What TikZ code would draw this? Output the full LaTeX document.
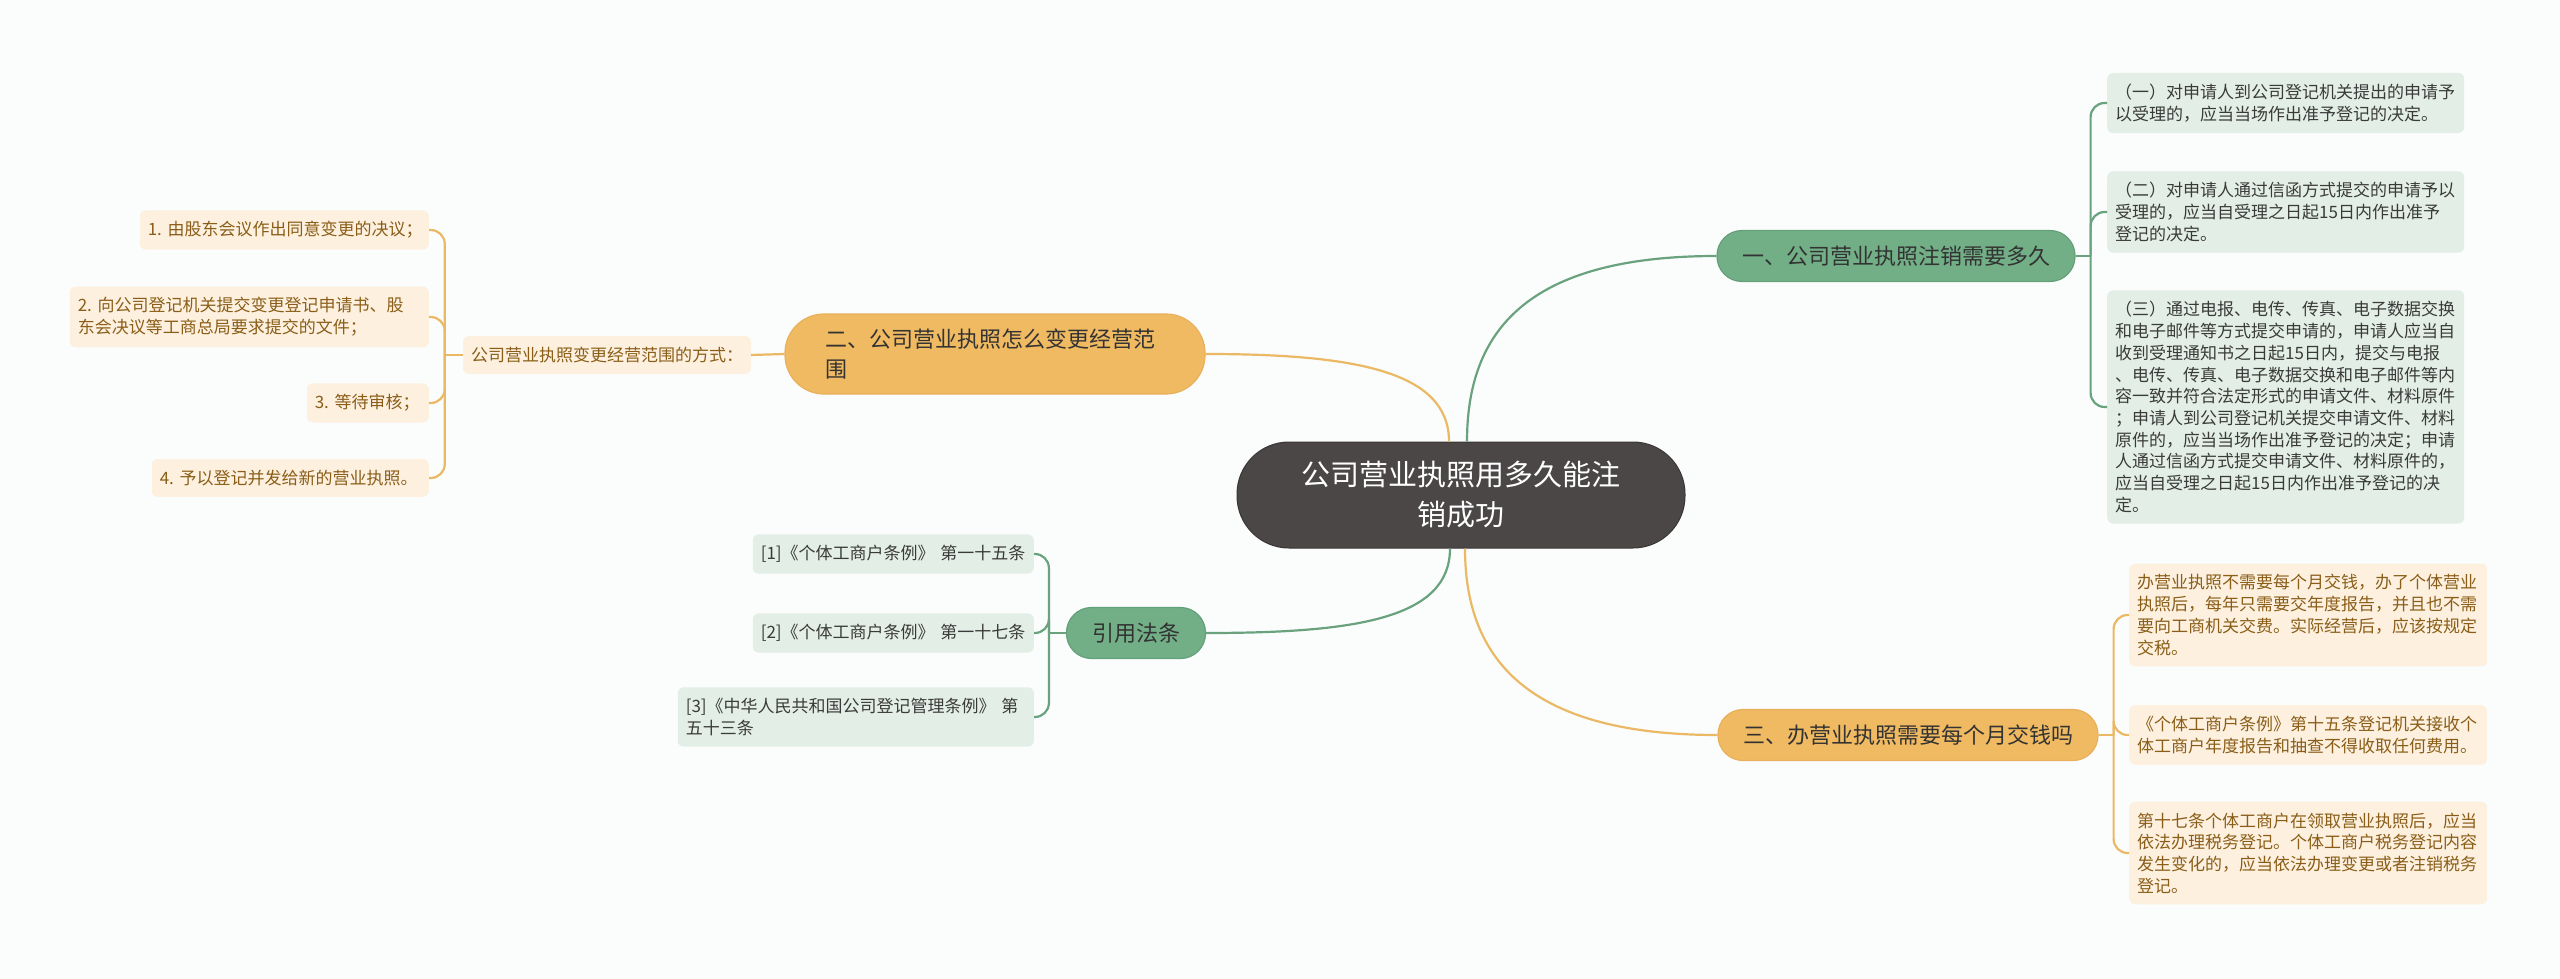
\documentclass[tikz,border=0pt]{standalone}
\usepackage{fontspec}
\setmainfont{Noto Sans CJK SC}
\usepackage{xcolor}
\usetikzlibrary{positioning}
\definecolor{bgcol}{HTML}{FBFDFD}
\definecolor{rootfill}{HTML}{4B4747}
\definecolor{rootedge}{HTML}{3A3636}
\definecolor{gfill}{HTML}{72AF87}
\definecolor{gedge}{HTML}{64A07A}
\definecolor{gline}{HTML}{6AA27E}
\definecolor{gleaf}{HTML}{E3EFE6}
\definecolor{ofill}{HTML}{F0BA62}
\definecolor{oedge}{HTML}{E8B05A}
\definecolor{oline}{HTML}{EBB864}
\definecolor{oleaf}{HTML}{FDF0DF}
\definecolor{gtext}{HTML}{3A3A3A}
\definecolor{otext}{HTML}{8A5E18}
\tikzset{
  rootbox/.style  = {rectangle, rounded corners=52pt, draw=rootedge, line width=1pt,
                     fill=rootfill, text=white, align=center, minimum width=448pt,
                     minimum height=106pt, font=\fontsize{29}{40}\selectfont},
  gbranch/.style  = {rectangle, rounded corners=25pt, draw=gedge, line width=1.2pt,
                     fill=gfill, text=black!80, minimum height=51pt,
                     font=\fontsize{22}{30}\selectfont},
  obranch/.style  = {rectangle, rounded corners=25pt, draw=oedge, line width=1.2pt,
                     fill=ofill, text=black!80, minimum height=51pt,
                     font=\fontsize{22}{30}\selectfont},
  gleafbox/.style = {rectangle, rounded corners=6pt, fill=gleaf, text=gtext,
                     align=left, inner xsep=8pt, inner ysep=11pt,
                     font=\fontsize{17}{21.7}\selectfont},
  oleafbox/.style = {rectangle, rounded corners=6pt, fill=oleaf, text=otext,
                     align=left, inner xsep=8pt, inner ysep=11pt,
                     font=\fontsize{17}{21.7}\selectfont},
  gcon/.style     = {draw=gline, line width=2.2pt},
  ocon/.style     = {draw=oline, line width=2.2pt},
}

\begin{document}
\begin{tikzpicture}[x=1pt, y=-1pt]
  % canvas
  \useasboundingbox (0,0) rectangle (2560,979);
  \fill[bgcol] (0,0) rectangle (2560,979);

  % root and main branches
  \node[rootbox] (root) at (1461,495) {公司营业执照用多久能注\\销成功};
  \node[gbranch, minimum width=358pt] (b1) at (1896,256) {一、公司营业执照注销需要多久};
  \node[obranch, rounded corners=39pt, minimum height=80pt, text width=340pt,
        inner xsep=40pt, align=left] (b2) at (995,354) {二、公司营业执照怎么变更经营范\\围};
  \node[obranch, minimum width=380pt] (b3) at (1908,735) {三、办营业执照需要每个月交钱吗};
  \node[gbranch, minimum width=139pt] (cite) at (1136,633) {引用法条};

  % leaves of b1
  \node[gleafbox, text width=341pt, anchor=west] (b1a) at (2107,103)
    {（一）对申请人到公司登记机关提出的申请予\\以受理的，应当当场作出准予登记的决定。};
  \node[gleafbox, text width=341pt, anchor=west] (b1b) at (2107,212)
    {（二）对申请人通过信函方式提交的申请予以\\受理的，应当自受理之日起15日内作出准予\\登记的决定。};
  \node[gleafbox, text width=341pt, anchor=west] (b1c) at (2107,407)
    {（三）通过电报、电传、传真、电子数据交换\\和电子邮件等方式提交申请的，申请人应当自\\收到受理通知书之日起15日内，提交与电报\\、电传、传真、电子数据交换和电子邮件等内\\容一致并符合法定形式的申请文件、材料原件\\；申请人到公司登记机关提交申请文件、材料\\原件的，应当当场作出准予登记的决定；申请\\人通过信函方式提交申请文件、材料原件的，\\应当自受理之日起15日内作出准予登记的决\\定。};

  % leaves of b3
  \node[oleafbox, text width=342pt, anchor=west] (b3a) at (2129,615)
    {办营业执照不需要每个月交钱，办了个体营业\\执照后，每年只需要交年度报告，并且也不需\\要向工商机关交费。实际经营后，应该按规定\\交税。};
  \node[oleafbox, text width=342pt, anchor=west] (b3b) at (2129,735)
    {《个体工商户条例》第十五条登记机关接收个\\体工商户年度报告和抽查不得收取任何费用。};
  \node[oleafbox, text width=342pt, anchor=west] (b3c) at (2129,853)
    {第十七条个体工商户在领取营业执照后，应当\\依法办理税务登记。个体工商户税务登记内容\\发生变化的，应当依法办理变更或者注销税务\\登记。};

  % leaves of b2
  \node[oleafbox, text width=272pt] (m) at (607,355) {公司营业执照变更经营范围的方式：};
  \node[oleafbox, text width=273pt, anchor=east] (m1) at (429,230) {1.~由股东会议作出同意变更的决议；};
  \node[oleafbox, text width=343pt, anchor=east] (m2) at (429,317)
    {2.~向公司登记机关提交变更登记申请书、股\\东会决议等工商总局要求提交的文件；};
  \node[oleafbox, text width=106pt, anchor=east] (m3) at (429,403) {3.~等待审核；};
  \node[oleafbox, text width=261pt, anchor=east] (m4) at (429,478) {4.~予以登记并发给新的营业执照。};

  % leaves of cite
  \node[gleafbox, text width=265pt, anchor=east] (cite1) at (1034,554) {[1]《个体工商户条例》~第一十五条};
  \node[gleafbox, text width=265pt, anchor=east] (cite2) at (1034,633) {[2]《个体工商户条例》~第一十七条};
  \node[gleafbox, text width=340pt, anchor=east] (cite3) at (1034,717)
    {[3]《中华人民共和国公司登记管理条例》~第\\五十三条};

  % main curves
  \draw[gcon] ([xshift=6pt]root.north) .. controls +(0,-110) and +(-190,0) .. (b1.west);
  \draw[ocon] ([xshift=-12pt]root.north) .. controls +(0,-70) and +(150,0) .. (b2.east);
  \draw[gcon] ([xshift=-11pt]root.south) .. controls +(0,70) and +(150,0) .. (cite.east);
  \draw[ocon] ([xshift=4pt]root.south) .. controls +(0,110) and +(-190,0) .. (b3.west);

  % brackets
  \coordinate (j1) at ([xshift=15pt]b1.east);
  \draw[gcon] (b1.east) -- (j1);
  \foreach \n in {b1a,b1b,b1c}
    \draw[gcon, rounded corners=14pt] (j1) |- (\n.west);

  \coordinate (j3) at ([xshift=15pt]b3.east);
  \draw[ocon] (b3.east) -- (j3);
  \foreach \n in {b3a,b3b,b3c}
    \draw[ocon, rounded corners=14pt] (j3) |- (\n.west);

  \draw[ocon] (b2.west) -- (m.east);
  \coordinate (jm) at ([xshift=-18pt]m.west);
  \draw[ocon] (m.west) -- (jm);
  \foreach \n in {m1,m2,m3,m4}
    \draw[ocon, rounded corners=14pt] (jm) |- (\n.east);

  \coordinate (jc) at ([xshift=-17pt]cite.west);
  \draw[gcon] (cite.west) -- (jc);
  \foreach \n in {cite1,cite2,cite3}
    \draw[gcon, rounded corners=14pt] (jc) |- (\n.east);
\end{tikzpicture}
\end{document}
